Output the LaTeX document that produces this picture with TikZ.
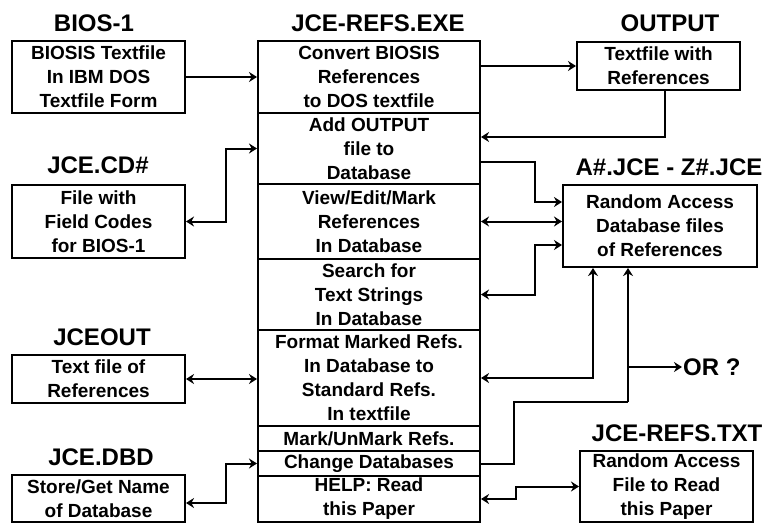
\documentclass[tikz,border=0pt]{standalone}
\usepackage{fontspec}
\setmainfont{Liberation Sans}
\usetikzlibrary{arrows.meta}

\tikzset{
  filebox/.style={draw, line width=2pt, align=center, inner sep=0pt,
    font=\bfseries\fontsize{19}{24}\selectfont},
  menurow/.style={filebox, minimum width=222pt},
  sidebox/.style={filebox, minimum width=173pt},
  head/.style={inner sep=1pt, font=\bfseries\fontsize{24}{28}\selectfont},
  link/.style={line width=2pt},
}

\begin{document}
\begin{tikzpicture}[x=1pt,y=-1pt,>={Stealth[length=8pt,width=10pt]}]
    \useasboundingbox (0,0) rectangle (767,524);
    % menu of the program
    \node[head] at (378,23) {JCE-REFS.EXE};
    \node[menurow, minimum height=72pt] (conv) at (369,77) {Convert BIOSIS\\References\\to DOS textfile};
    \node[menurow, minimum height=71pt] (addout) at (369,148.5) {Add OUTPUT\\file to\\Database};
    \node[menurow, minimum height=75pt] (view) at (369,221.5) {View/Edit/Mark\\References\\In Database};
    \node[menurow, minimum height=71pt] (search) at (369,294.5) {Search for\\Text Strings\\In Database};
    \node[menurow, minimum height=96pt] (format) at (369,378) {Format Marked Refs.\\In Database to\\Standard Refs.\\In textfile};
    \node[menurow, minimum height=25pt] (mark) at (369,438.5) {Mark/UnMark Refs.};
    \node[menurow, minimum height=25pt] (change) at (369,463.5) {Change Databases};
    \node[menurow, minimum height=46pt] (help) at (369,499) {HELP: Read\\this Paper};
    % files on the left
    \node[head] at (94,23) {BIOS-1};
    \node[sidebox, minimum height=72pt] (bios) at (98.5,77) {BIOSIS Textfile\\In IBM DOS\\Textfile Form};
    \node[head] at (98,165) {JCE.CD\#};
    \node[sidebox, minimum height=73pt] (codes) at (98.5,221.5) {File with\\Field Codes\\for BIOS-1};
    \node[head] at (102,337) {JCEOUT};
    \node[sidebox, minimum height=48pt] (jceout) at (98.5,379) {Text file of\\References};
    \node[head] at (101,457) {JCE.DBD};
    \node[sidebox, minimum height=47pt] (dbd) at (98.5,498.5) {Store/Get Name\\of Database};
    % files on the right
    \node[head] at (670,23) {OUTPUT};
    \node[filebox, minimum width=163pt, minimum height=48pt] (output) at (658.5,66) {Textfile with\\References};
    \node[head] at (669,167) {A\#.JCE - Z\#.JCE};
    \node[filebox, minimum width=194pt, minimum height=82pt] (adb) at (660,226) {Random Access\\Database files\\of References};
    \node[head] at (677,433) {JCE-REFS.TXT};
    \node[sidebox, minimum height=71pt] (refstxt) at (666.5,486.5) {Random Access\\File to Read\\this Paper};
    \node[head, anchor=west] (orq) at (682,367) {OR ?};
    \coordinate (jn) at (628,402);
    % links
    \draw[link,->] (bios) -- (conv);
    \draw[link,->] (conv.east |- output.west) -- (output.west);
    \draw[link,->] ([xshift=6.5pt]output.south) |- ([yshift=11.5pt]addout.east);
    \draw[link,<->] (codes.east) -- ++(40,0) |- (addout.west);
    \draw[link,->] ([yshift=-13.5pt]addout.east) -- ++(54,0) |- ([yshift=24pt]adb.west);
    \draw[link,<->] (view.east) -- (view.east -| adb.west);
    \draw[link,<->] (search.east) -- ++(54,0) |- ([yshift=-19pt]adb.west);
    \draw[link,<->] (jceout.east) -- (jceout.east -| format.west);
    \draw[link,<->] (format.east) -| ([xshift=-67pt]adb.south);
    \draw[link] (change.east) -- ++(33,0) |- (jn);
    \draw[link,->] (jn) -- (jn |- adb.south);
    \draw[link,->] (jn |- orq.west) -- (orq.west);
    \draw[link,<->] ([yshift=-4.5pt]dbd.east) -- ++(40,0) |- (change.west);
    \draw[link,<->] (help.east) -- ++(35,0) |- (refstxt.west);
\end{tikzpicture}
\end{document}
